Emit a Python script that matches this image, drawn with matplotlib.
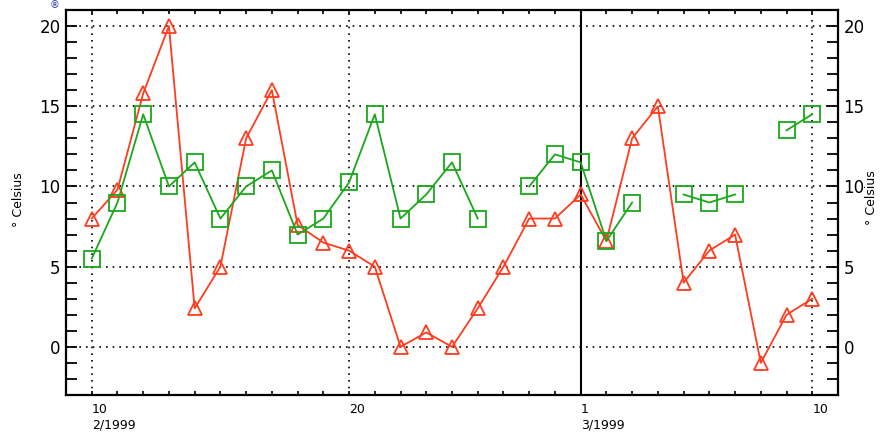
import numpy as np
import pandas as pd
import matplotlib.pyplot as plt
import matplotlib.dates as mdates

# daily temperatures, 10 Feb - 10 Mar 1999 (degrees Celsius)
days = pd.date_range("1999-02-10", "1999-03-10", freq="D")

temp_red = [8.0, 9.8, 15.8, 20.0, 2.4, 5.0, 13.0, 16.0, 7.6, 6.5,
            6.0, 5.0, 0.0, 0.9, 0.0, 2.4, 5.0, 8.0, 8.0, 9.5,
            6.6, 13.0, 15.0, 4.0, 6.0, 7.0, -1.0, 2.0, 3.0]

temp_green = [5.5, 9.0, 14.5, 10.0, 11.5, 8.0, 10.0, 11.0, 7.0, 8.0,
              10.25, 14.5, 8.0, 9.5, 11.5, 8.0, np.nan, 10.0, 12.0, 11.5,
              6.6, 9.0, np.nan, 9.5, 9.0, 9.5, np.nan, 13.5, 14.5]

label_days = pd.to_datetime(["1999-02-10", "1999-02-20", "1999-03-01", "1999-03-10"])
label_text = ["10\n2/1999", "20", "1\n3/1999", "10"]
grid_days = pd.to_datetime(["1999-02-10", "1999-02-20", "1999-03-10"])
month_start = pd.Timestamp("1999-03-01")
y_grid = [0, 5, 10, 15, 20]

red = "#ff3c1e"
green = "#1aa81a"

fig = plt.figure(figsize=(8.8, 4.36), dpi=100)
ax = fig.add_axes([66/880, 1-395/436, (838-66)/880, (395-10)/436])

dots = (0, (1, 3))
for yv in y_grid:
    ax.axhline(yv, color="black", lw=1.2, ls=dots, zorder=1)
for d in grid_days:
    ax.axvline(d, color="black", lw=1.2, ls=dots, zorder=1)
ax.axvline(month_start, color="black", lw=1.5, zorder=1)

ax.plot(days, temp_red, color=red, lw=1.3, marker="^", ms=10.5,
        mfc="none", mec=red, mew=1.3, zorder=3)
ax.plot(days, temp_green, color=green, lw=1.3, marker="s", ms=11,
        mfc="none", mec=green, mew=1.3, zorder=3)

ax.set_xlim(pd.Timestamp("1999-02-09"), pd.Timestamp("1999-03-11"))
ax.set_ylim(-3, 21)

ax.set_xticks(label_days)
ax.set_xticklabels(label_text, ha="left", fontsize=9)
ax.xaxis.set_minor_locator(mdates.DayLocator())
ax.tick_params(axis="x", which="both", direction="in", top=True,
               length=3, width=1.2, pad=6)

ax.set_yticks(y_grid)
ax.set_yticks(range(-2, 21), minor=True)
ax.tick_params(axis="y", which="both", direction="in", right=True,
               labelright=True, length=8, width=1.3, labelsize=12, pad=4)

for s in ax.spines.values():
    s.set_linewidth(1.6)

fig.text(18/880, 1-200/436, "° Celsius", rotation=90, ha="center", va="center", fontsize=9)
fig.text(871/880, 1-198/436, "° Celsius", rotation=90, ha="center", va="center", fontsize=9)
fig.text(54/880, 0.999, "®", color="#2233aa", ha="center", va="top", fontsize=7)

fig.savefig("out.png", dpi=100)
